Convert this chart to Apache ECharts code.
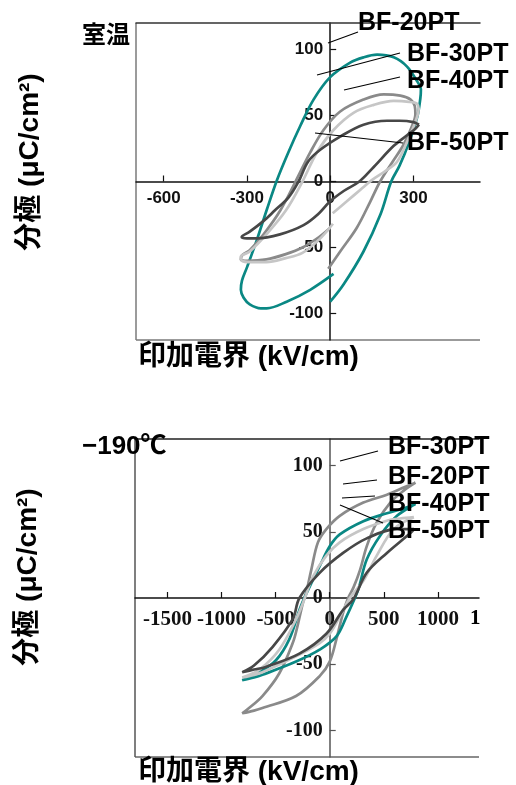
<!DOCTYPE html>
<html>
<head>
<meta charset="utf-8">
<script src="https://cdn.jsdelivr.net/npm/echarts@6/dist/echarts.min.js"></script>
<style>
  html, body { margin: 0; padding: 0; background: #fff; }
  #chart { width: 516px; height: 785px; }
</style>
</head>
<body>
<div id="chart"></div>
<script>
// P–E hysteresis loops, BiFeO3–PbTiO3 films (E in kV/cm, P in µC/cm²)

// ---- room temperature panel ----
const rtNames = ['BF-20PT', 'BF-30PT', 'BF-40PT', 'BF-50PT'];
const rtXTicks = [-600, -300, 0, 300];
const rtYTicks = [-100, -50, 0, 50, 100];

const rtBF20 = [
  [0, -91], [48, -78], [120, -53], [181, -25], [220, 0], [250, 12], [283, 29], [314, 49],
  [325, 63], [327, 70], [313, 76], [277, 87], [229, 94], [169, 96], [120, 94], [72, 90],
  [0, 79], [-60, 62], [-108, 42], [-151, 22], [-192, 1], [-228, -21], [-264, -44],
  [-300, -65], [-318, -75], [-322, -82], [-312, -88], [-290, -93], [-250, -96],
  [-229, -96], [-157, -91], [-72, -82], [12, -70]
];
const rtBF30 = [
  [-7, -66], [36, -53], [96, -35], [145, -15], [180, 0], [225, 15], [265, 28], [295, 42],
  [307, 51], [305, 57], [290, 62], [253, 65], [193, 66], [120, 62], [36, 53], [-24, 39],
  [-72, 22], [-125, 0], [-180, -22], [-240, -40], [-290, -52], [-318, -56], [-322, -59],
  [-300, -60], [-230, -59], [-160, -55], [-100, -50], [-40, -42], [0, -35]
];
const rtBF40 = [
  [9, -24], [60, -15], [110, -6], [150, 1], [200, 8], [241, 15], [277, 30], [307, 45],
  [319, 55], [312, 59], [295, 60], [229, 61], [157, 58], [84, 52], [12, 39], [-48, 22],
  [-100, 0], [-160, -22], [-230, -40], [-290, -53], [-322, -57], [-318, -60], [-290, -61],
  [-230, -61], [-160, -58], [-100, -54], [-40, -44], [10, -32]
];
const rtBF50 = [
  [320, 43], [300, 45], [250, 46], [205, 46], [120, 43], [36, 34], [-36, 24], [-80, 15],
  [-114, 0], [-150, -12], [-200, -22], [-241, -30], [-290, -38], [-319, -42], [-300, -43],
  [-265, -43], [-181, -40], [-96, -33], [-40, -24], [0, -15], [50, -7], [105, 0],
  [157, 11], [229, 27], [277, 35], [307, 40], [320, 43]
];

// ---- -190 °C panel ----
const ltNames = ['BF-30PT', 'BF-20PT', 'BF-40PT', 'BF-50PT'];
const ltXTicks = [-1500, -1000, -500, 0, 500, 1000];
const ltYTicks = [-100, -50, 0, 50, 100];

const ltBF30 = [
  [793, 87], [700, 84], [529, 78], [311, 72], [93, 62], [-31, 52], [-109, 42], [-171, 21],
  [-218, 4], [-249, -4], [-300, -22], [-342, -34], [-467, -57], [-622, -74], [-760, -84],
  [-809, -87], [-700, -85], [-622, -83], [-311, -74], [-93, -59], [0, -48], [62, -31],
  [124, -11], [170, 0], [220, 8], [280, 21], [342, 39], [435, 57], [560, 72], [684, 81],
  [793, 87]
];
const ltBF20 = [
  [793, 71], [700, 68], [529, 64], [311, 58], [93, 48], [0, 39], [-93, 24], [-171, 11],
  [-235, 0], [-280, -9], [-373, -31], [-497, -47], [-650, -56], [-809, -62], [-700, -60],
  [-622, -58], [-311, -48], [-93, -39], [62, -29], [155, -14], [233, 0], [270, 8],
  [342, 29], [466, 47], [622, 62], [793, 71]
];
const ltBF40 = [
  [778, 61], [650, 60], [560, 59], [311, 52], [93, 42], [-31, 32], [-156, 16], [-230, 0],
  [-311, -16], [-467, -39], [-650, -54], [-809, -60], [-700, -58], [-622, -56],
  [-311, -44], [-93, -34], [0, -27], [93, -14], [187, 0], [311, 13], [435, 32],
  [591, 52], [778, 61]
];
const ltBF50 = [
  [780, 52], [620, 52], [342, 45], [124, 34], [-93, 19], [-280, 0], [-342, -16],
  [-529, -37], [-700, -51], [-809, -56], [-700, -54], [-591, -52], [-280, -42],
  [-31, -27], [124, -9], [218, -1], [342, 19], [529, 34], [746, 49], [780, 52]
];

const COLORS = { BF20: '#0a8884', BF30: '#8a8a8a', BF40: '#c6c6c6', BF50: '#474747' };

const SANS = '"Liberation Sans", Arial, sans-serif';
const SERIF = '"Liberation Serif", "Times New Roman", serif';
const CJK = '"Liberation Sans", "Noto Sans CJK JP", sans-serif';

const chart = echarts.init(document.getElementById('chart'), null, { renderer: 'canvas' });

const grids = [
  { left: 136, top: 23, width: 344, height: 317 },
  { left: 135, top: 439, width: 344, height: 318 }
];
const Y_MIN = -120, Y_MAX = 120;

// Main axes cross at the origin: shift them from the grid edge to the zero line.
function panelAxes(g, xMin, xMax, xTicks, yTicks, font, xSize, ySize, xMargin, yAxisColor, borderColors) {
  const dark = '#111';
  const gr = grids[g];
  const xOffset = -gr.height * (0 - Y_MIN) / (Y_MAX - Y_MIN);
  const yOffset = -gr.width * (0 - xMin) / (xMax - xMin);
  const plain = v => String(v);
  const xs = [
    {
      gridIndex: g, type: 'value', min: xMin, max: xMax, position: 'bottom', offset: xOffset,
      axisLine: { onZero: false, lineStyle: { color: dark, width: 1.5 } },
      axisTick: { inside: true, length: 6, customValues: xTicks, lineStyle: { color: dark, width: 1.2 } },
      axisLabel: { customValues: xTicks, formatter: plain, margin: xMargin, fontFamily: font, fontWeight: 'bold', fontSize: xSize, color: '#111' },
      splitLine: { show: false }
    },
    {
      gridIndex: g, type: 'value', min: xMin, max: xMax, position: 'top',
      axisLine: { show: true, onZero: false, lineStyle: { color: borderColors.top, width: 1.5 } },
      axisTick: { show: false, customValues: [xMin] },
      axisLabel: { show: false },
      splitLine: { show: true, lineStyle: { color: borderColors.left, width: 1.5 } }
    }
  ];
  const ys = [
    {
      gridIndex: g, type: 'value', min: Y_MIN, max: Y_MAX, position: 'left', offset: yOffset,
      axisLine: { onZero: false, lineStyle: { color: yAxisColor, width: 1.5 } },
      axisTick: { inside: true, length: 6, customValues: yTicks, lineStyle: { color: yAxisColor, width: 1.2 } },
      axisLabel: { customValues: yTicks, formatter: plain, margin: 7, fontFamily: font, fontWeight: 'bold', fontSize: ySize, color: '#111' },
      splitLine: { show: false }
    },
    {
      gridIndex: g, type: 'value', min: Y_MIN, max: Y_MAX, position: 'right',
      axisLine: { show: false, onZero: false },
      axisTick: { show: false, customValues: [Y_MIN] },
      axisLabel: { show: false },
      splitLine: { show: true, lineStyle: { color: borderColors.bottom, width: 1.5 } }
    }
  ];
  return { xs, ys };
}

const p0 = panelAxes(0, -700, 540, rtXTicks, rtYTicks, SANS, 17, 17, 8, '#111',
  { top: '#333', left: '#7a7a7a', bottom: '#7a7a7a' });
const p1 = panelAxes(1, -1800, 1380, ltXTicks, ltYTicks, SERIF, 21, 20, 11, '#555',
  { top: '#222', left: '#555', bottom: '#666' });

function loop(name, data, color, xi, yi) {
  return {
    name, type: 'line', data, xAxisIndex: xi, yAxisIndex: yi,
    smooth: 0.35, showSymbol: false, symbol: 'none',
    lineStyle: { color, width: 2.7 }, z: 3
  };
}

const series = [
  loop(rtNames[0], rtBF20, COLORS.BF20, 0, 0),
  loop(rtNames[1], rtBF30, COLORS.BF30, 0, 0),
  loop(rtNames[2], rtBF40, COLORS.BF40, 0, 0),
  loop(rtNames[3], rtBF50, COLORS.BF50, 0, 0),
  loop(ltNames[0], ltBF30, COLORS.BF30, 2, 2),
  loop(ltNames[1], ltBF20, COLORS.BF20, 2, 2),
  loop(ltNames[2], ltBF40, COLORS.BF40, 2, 2),
  loop(ltNames[3], ltBF50, COLORS.BF50, 2, 2)
];

function txt(text, x, y, font, align, vAlign, extra) {
  return Object.assign({
    type: 'text', x, y, z: 10,
    style: { text, font, fill: '#000', textAlign: align, textVerticalAlign: vAlign, align, verticalAlign: vAlign }
  }, extra || {});
}
function lead(x1, y1, x2, y2) {
  return { type: 'line', z: 10, shape: { x1, y1, x2, y2 }, style: { stroke: '#000', lineWidth: 1.1 } };
}

const LBL = 'bold 25px ' + SANS;
const TITLE = 'bold 28px ' + CJK;

const graphic = [
  // room-temperature panel
  txt('室温', 82, 34, 'bold 24px "Noto Sans CJK JP", sans-serif', 'left', 'middle'),
  txt(rtNames[0], 358, 23, LBL, 'left', 'middle'),
  txt(rtNames[1], 407, 54, LBL, 'left', 'middle'),
  txt(rtNames[2], 407, 81, LBL, 'left', 'middle'),
  txt(rtNames[3], 407, 143, LBL, 'left', 'middle'),
  lead(328, 43, 358, 32),
  lead(317, 75, 400, 53),
  lead(344, 90, 400, 77),
  lead(315, 133, 403, 143),
  txt('分極 (μC/cm²)', 30, 162, TITLE, 'center', 'middle', { rotation: Math.PI / 2 }),
  txt('印加電界 (kV/cm)', 138, 357, TITLE, 'left', 'middle'),

  // -190 °C panel
  txt('−190℃', 82, 447, 'bold 26px ' + CJK, 'left', 'middle'),
  txt(ltNames[0], 388, 447, LBL, 'left', 'middle'),
  txt(ltNames[1], 388, 477, LBL, 'left', 'middle'),
  txt(ltNames[2], 388, 504, LBL, 'left', 'middle'),
  txt(ltNames[3], 388, 531, LBL, 'left', 'middle'),
  lead(340, 461, 378, 451),
  lead(343, 484, 377, 480),
  lead(342, 498, 375, 496),
  lead(340, 505, 383, 523),
  txt('1', 470, 619, 'bold 21px ' + SERIF, 'left', 'middle'),
  txt('分極 (μC/cm²)', 28, 577, TITLE, 'center', 'middle', { rotation: Math.PI / 2 }),
  txt('印加電界 (kV/cm)', 138, 772, TITLE, 'left', 'middle')
];

chart.setOption({
  animation: false,
  backgroundColor: '#fff',
  grid: grids,
  xAxis: p0.xs.concat(p1.xs),
  yAxis: p0.ys.concat(p1.ys),
  series,
  graphic
});
</script>
</body>
</html>
